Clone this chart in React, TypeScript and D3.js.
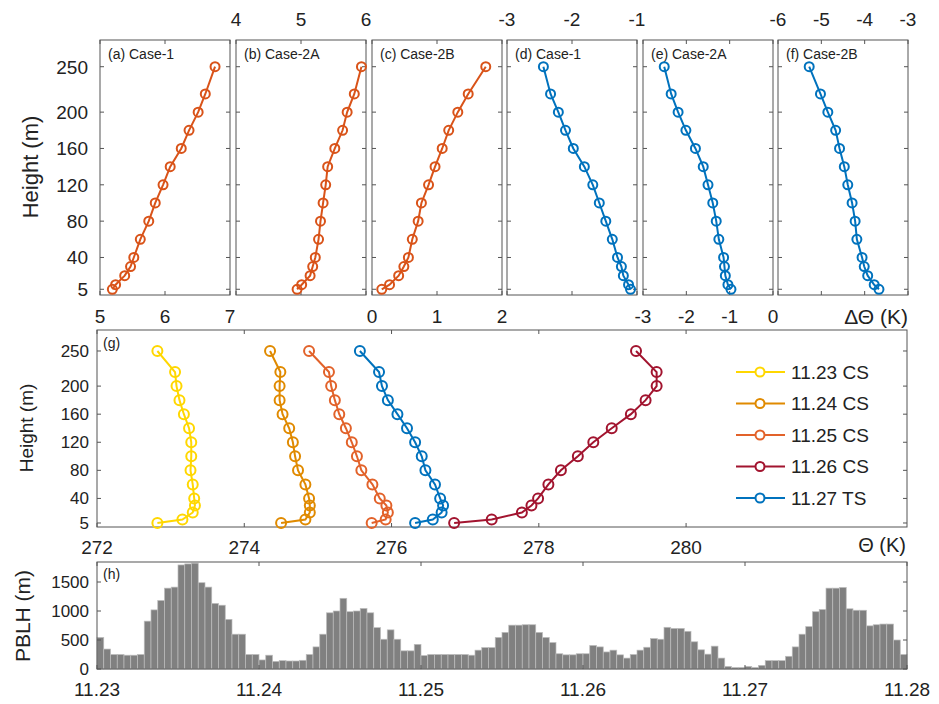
import React from "react";
import * as d3 from "d3";

const heights = [250, 220, 200, 180, 160, 140, 120, 100, 80, 60, 40, 30, 20, 10, 5];
const heightTicks = [5, 40, 80, 120, 160, 200, 250];

const caseA = [6.77, 6.62, 6.51, 6.37, 6.25, 6.08, 5.97, 5.85, 5.75, 5.62, 5.52, 5.47, 5.38, 5.24, 5.19];
const caseB = [5.93, 5.82, 5.71, 5.64, 5.52, 5.41, 5.38, 5.34, 5.30, 5.27, 5.22, 5.18, 5.14, 5.01, 4.94];
const caseC = [1.75, 1.48, 1.32, 1.18, 1.08, 0.97, 0.87, 0.76, 0.71, 0.62, 0.56, 0.49, 0.41, 0.27, 0.15];
const caseD = [-2.44, -2.33, -2.21, -2.10, -1.98, -1.81, -1.68, -1.58, -1.48, -1.38, -1.30, -1.24, -1.21, -1.13, -1.10];
const caseE = [-2.51, -2.35, -2.19, -2.01, -1.79, -1.61, -1.50, -1.39, -1.31, -1.25, -1.14, -1.12, -1.10, -1.04, -0.97];
const caseF = [-5.28, -5.02, -4.85, -4.67, -4.58, -4.47, -4.39, -4.29, -4.22, -4.18, -4.06, -4.01, -3.93, -3.78, -3.67];

const th1123 = [272.82, 273.06, 273.08, 273.12, 273.18, 273.25, 273.28, 273.28, 273.27, 273.30, 273.32, 273.33, 273.30, 273.16, 272.82];
const th1124 = [274.35, 274.49, 274.48, 274.48, 274.52, 274.61, 274.66, 274.69, 274.73, 274.83, 274.88, 274.89, 274.89, 274.83, 274.50];
const th1125 = [274.88, 275.15, 275.18, 275.23, 275.29, 275.38, 275.46, 275.53, 275.59, 275.74, 275.84, 275.93, 275.95, 275.92, 275.73];
const th1126 = [279.32, 279.60, 279.60, 279.45, 279.25, 278.99, 278.74, 278.53, 278.30, 278.13, 277.99, 277.90, 277.77, 277.36, 276.85];
const th1127 = [275.57, 275.83, 275.87, 275.95, 276.08, 276.21, 276.32, 276.41, 276.46, 276.59, 276.66, 276.70, 276.68, 276.56, 276.32];

const pblh = [
  544, 344, 250, 250, 238, 238, 250, 825, 1019, 1181,
  1394, 1412, 1794, 1812, 1825, 1488, 1412, 1131, 1100, 856,
  600, 600, 250, 250, 156, 238, 131, 144, 138, 138,
  150, 250, 381, 600, 969, 1000, 1219, 988, 1000, 1044,
  969, 713, 513, 675, 513, 313, 313, 425, 231, 250,
  250, 250, 250, 250, 250, 238, 325, 369, 369, 544, 631,
  756, 756, 763, 763, 631, 544, 456, 263, 244, 244,
  263, 263, 406, 381, 294, 325, 244, 188, 250, 325,
  375, 525, 513, 719, 700, 700, 650, 469, 331, 256,
  394, 188, 44, 25, 25, 44, 25, 63, 144, 144,
  144, 219, 381, 600, 731, 988, 1025, 1394, 1394, 1406,
  1038, 1013, 1013, 744, 763, 775, 775, 500, 250,
];
const pblhTicks = [0, 500, 1000, 1500];
const dayLabels = ["11.23", "11.24", "11.25", "11.26", "11.27", "11.28"];
const thetaTicks = [272, 274, 276, 278, 280];

const ORANGE = "#D95319";
const BLUE = "#0072BD";
const FONT = "Liberation Sans, Arial, sans-serif";
const AX = "#555";

type Panel = { x0: number; x1: number; dom: [number, number]; ticks: number[]; side: "top" | "bottom"; label: string; vals: number[]; color: string };
const panels: Panel[] = [
  { x0: 100, x1: 230, dom: [5, 7], ticks: [5, 6, 7], side: "bottom", label: "(a) Case-1", vals: caseA, color: ORANGE },
  { x0: 236, x1: 366, dom: [4, 6], ticks: [4, 5, 6], side: "top", label: "(b) Case-2A", vals: caseB, color: ORANGE },
  { x0: 372, x1: 502, dom: [0, 2], ticks: [0, 1, 2], side: "bottom", label: "(c) Case-2B", vals: caseC, color: ORANGE },
  { x0: 507, x1: 637, dom: [-3, -1], ticks: [-3, -2, -1], side: "top", label: "(d) Case-1", vals: caseD, color: BLUE },
  { x0: 643, x1: 773, dom: [-3, 0], ticks: [-3, -2, -1, 0], side: "bottom", label: "(e) Case-2A", vals: caseE, color: BLUE },
  { x0: 778, x1: 908, dom: [-6, -3], ticks: [-6, -5, -4, -3], side: "top", label: "(f) Case-2B", vals: caseF, color: BLUE },
];

const gSeries = [
  { name: "11.23 CS", vals: th1123, color: "#FFD700" },
  { name: "11.24 CS", vals: th1124, color: "#E08A00" },
  { name: "11.25 CS", vals: th1125, color: "#E2622A" },
  { name: "11.26 CS", vals: th1126, color: "#A2142F" },
  { name: "11.27 TS", vals: th1127, color: BLUE },
];

function Profile({ xs, y, vals, color, r = 5 }: any) {
  const line = d3.line<number>().x((v) => xs(v)).y((_, i) => y(heights[i]));
  return (
    <g>
      <path d={line(vals) || ""} fill="none" stroke={color} strokeWidth={2} />
      {vals.map((v: number, i: number) => (
        <circle key={i} cx={xs(v)} cy={y(heights[i])} r={r} fill="none" stroke={color} strokeWidth={2} />
      ))}
    </g>
  );
}

export default function App() {
  const T0 = 40, T1 = 295;
  const yTop = d3.scaleLinear().domain([-1.3, 279.4]).range([T1, T0]);
  const G0 = 330, G1 = 527;
  const yG = d3.scaleLinear().domain([-0.7, 279.9]).range([G1, G0]);
  const xG = d3.scaleLinear().domain([272, 283]).range([97, 907]);
  const H0 = 562, H1 = 669;
  const yH = d3.scaleLinear().domain([0, 1845]).range([H1, H0]);
  const xH = d3.scaleLinear().domain([0, 120]).range([97, 907]);
  const tk = 4;

  return (
    <svg width={939} height={704} style={{ display: "block", fontFamily: FONT, position: "absolute", left: 0, top: 0 }}>
      <rect width={939} height={704} fill="#fff" />
      {panels.map((p, k) => {
        const xs = d3.scaleLinear().domain(p.dom).range([p.x0, p.x1]);
        return (
          <g key={k}>
            <rect x={p.x0} y={T0} width={p.x1 - p.x0} height={T1 - T0} fill="none" stroke={AX} strokeWidth={1} />
            {heightTicks.map((h) => (
              <g key={h}>
                <line x1={p.x0} x2={p.x0 + tk} y1={yTop(h)} y2={yTop(h)} stroke={AX} />
                <line x1={p.x1} x2={p.x1 - tk} y1={yTop(h)} y2={yTop(h)} stroke={AX} />
              </g>
            ))}
            {p.ticks.map((t) => (
              <g key={t}>
                <line x1={xs(t)} x2={xs(t)} y1={T1} y2={T1 - tk} stroke={AX} />
                <line x1={xs(t)} x2={xs(t)} y1={T0} y2={T0 + tk} stroke={AX} />
                <text x={xs(t)} y={p.side === "bottom" ? T1 + 28 : T0 - 14} textAnchor="middle" fontSize={19} fill="#222">{t}</text>
              </g>
            ))}
            <text x={p.x0 + 8} y={T0 + 19} fontSize={14} fill="#222">{p.label}</text>
            <Profile xs={xs} y={yTop} vals={p.vals} color={p.color} r={4.5} />
          </g>
        );
      })}
      {heightTicks.map((h) => (
        <text key={h} x={88} y={yTop(h) + 7} textAnchor="end" fontSize={19} fill="#222">{h}</text>
      ))}
      <text transform={`translate(38,167) rotate(-90)`} textAnchor="middle" fontSize={22} fill="#222">Height (m)</text>
      <text x={908} y={324} textAnchor="end" fontSize={21} fill="#222">ΔΘ (K)</text>

      <rect x={97} y={G0} width={810} height={G1 - G0} fill="none" stroke={AX} />
      {heightTicks.map((h) => (
        <g key={h}>
          <line x1={97} x2={97 + tk} y1={yG(h)} y2={yG(h)} stroke={AX} />
          <line x1={907} x2={907 - tk} y1={yG(h)} y2={yG(h)} stroke={AX} />
          <text x={89} y={yG(h) + 6} textAnchor="end" fontSize={17} fill="#222">{h}</text>
        </g>
      ))}
      {thetaTicks.map((t) => (
        <g key={t}>
          <line x1={xG(t)} x2={xG(t)} y1={G1} y2={G1 - tk} stroke={AX} />
          <line x1={xG(t)} x2={xG(t)} y1={G0} y2={G0 + tk} stroke={AX} />
          <text x={xG(t)} y={G1 + 27} textAnchor="middle" fontSize={19} fill="#222">{t}</text>
        </g>
      ))}
      <text x={906} y={G1 + 25} textAnchor="end" fontSize={20} fill="#222">Θ (K)</text>
      <text x={103} y={G0 + 18} fontSize={14} fill="#222">(g)</text>
      <text transform={`translate(33,428) rotate(-90)`} textAnchor="middle" fontSize={19} fill="#222">Height (m)</text>
      {gSeries.map((s) => (
        <Profile key={s.name} xs={xG} y={yG} vals={s.vals} color={s.color} r={5} />
      ))}
      {gSeries.map((s, i) => {
        const yy = 372 + i * 31.5;
        return (
          <g key={s.name}>
            <line x1={736} x2={785} y1={yy} y2={yy} stroke={s.color} strokeWidth={2} />
            <circle cx={760} cy={yy} r={4.5} fill="#fff" stroke={s.color} strokeWidth={2} />
            <text x={791} y={yy + 6.5} fontSize={19} fill="#222">{s.name}</text>
          </g>
        );
      })}

      {pblh.map((v, i) => (
        <rect key={i} x={xH(i)} y={yH(v)} width={xH(i + 1) - xH(i)} height={H1 - yH(v)} fill="#808080" stroke="#bdbdbd" strokeWidth={0.7} />
      ))}
      <rect x={97} y={H0} width={810} height={H1 - H0} fill="none" stroke={AX} />
      {pblhTicks.map((t) => (
        <g key={t}>
          <line x1={97} x2={97 + tk} y1={yH(t)} y2={yH(t)} stroke={AX} />
          <line x1={907} x2={907 - tk} y1={yH(t)} y2={yH(t)} stroke={AX} />
          <text x={89} y={yH(t) + 6} textAnchor="end" fontSize={17} fill="#222">{t}</text>
        </g>
      ))}
      {dayLabels.map((d, i) => (
        <g key={d}>
          <line x1={xH(i * 24)} x2={xH(i * 24)} y1={H1} y2={H1 - tk} stroke={AX} />
          <line x1={xH(i * 24)} x2={xH(i * 24)} y1={H0} y2={H0 + tk} stroke={AX} />
          <text x={xH(i * 24)} y={H1 + 27} textAnchor="middle" fontSize={19} fill="#222">{d}</text>
        </g>
      ))}
      <text x={103} y={H0 + 17} fontSize={14} fill="#222">(h)</text>
      <text transform={`translate(30,616) rotate(-90)`} textAnchor="middle" fontSize={21} fill="#222">PBLH (m)</text>
    </svg>
  );
}
